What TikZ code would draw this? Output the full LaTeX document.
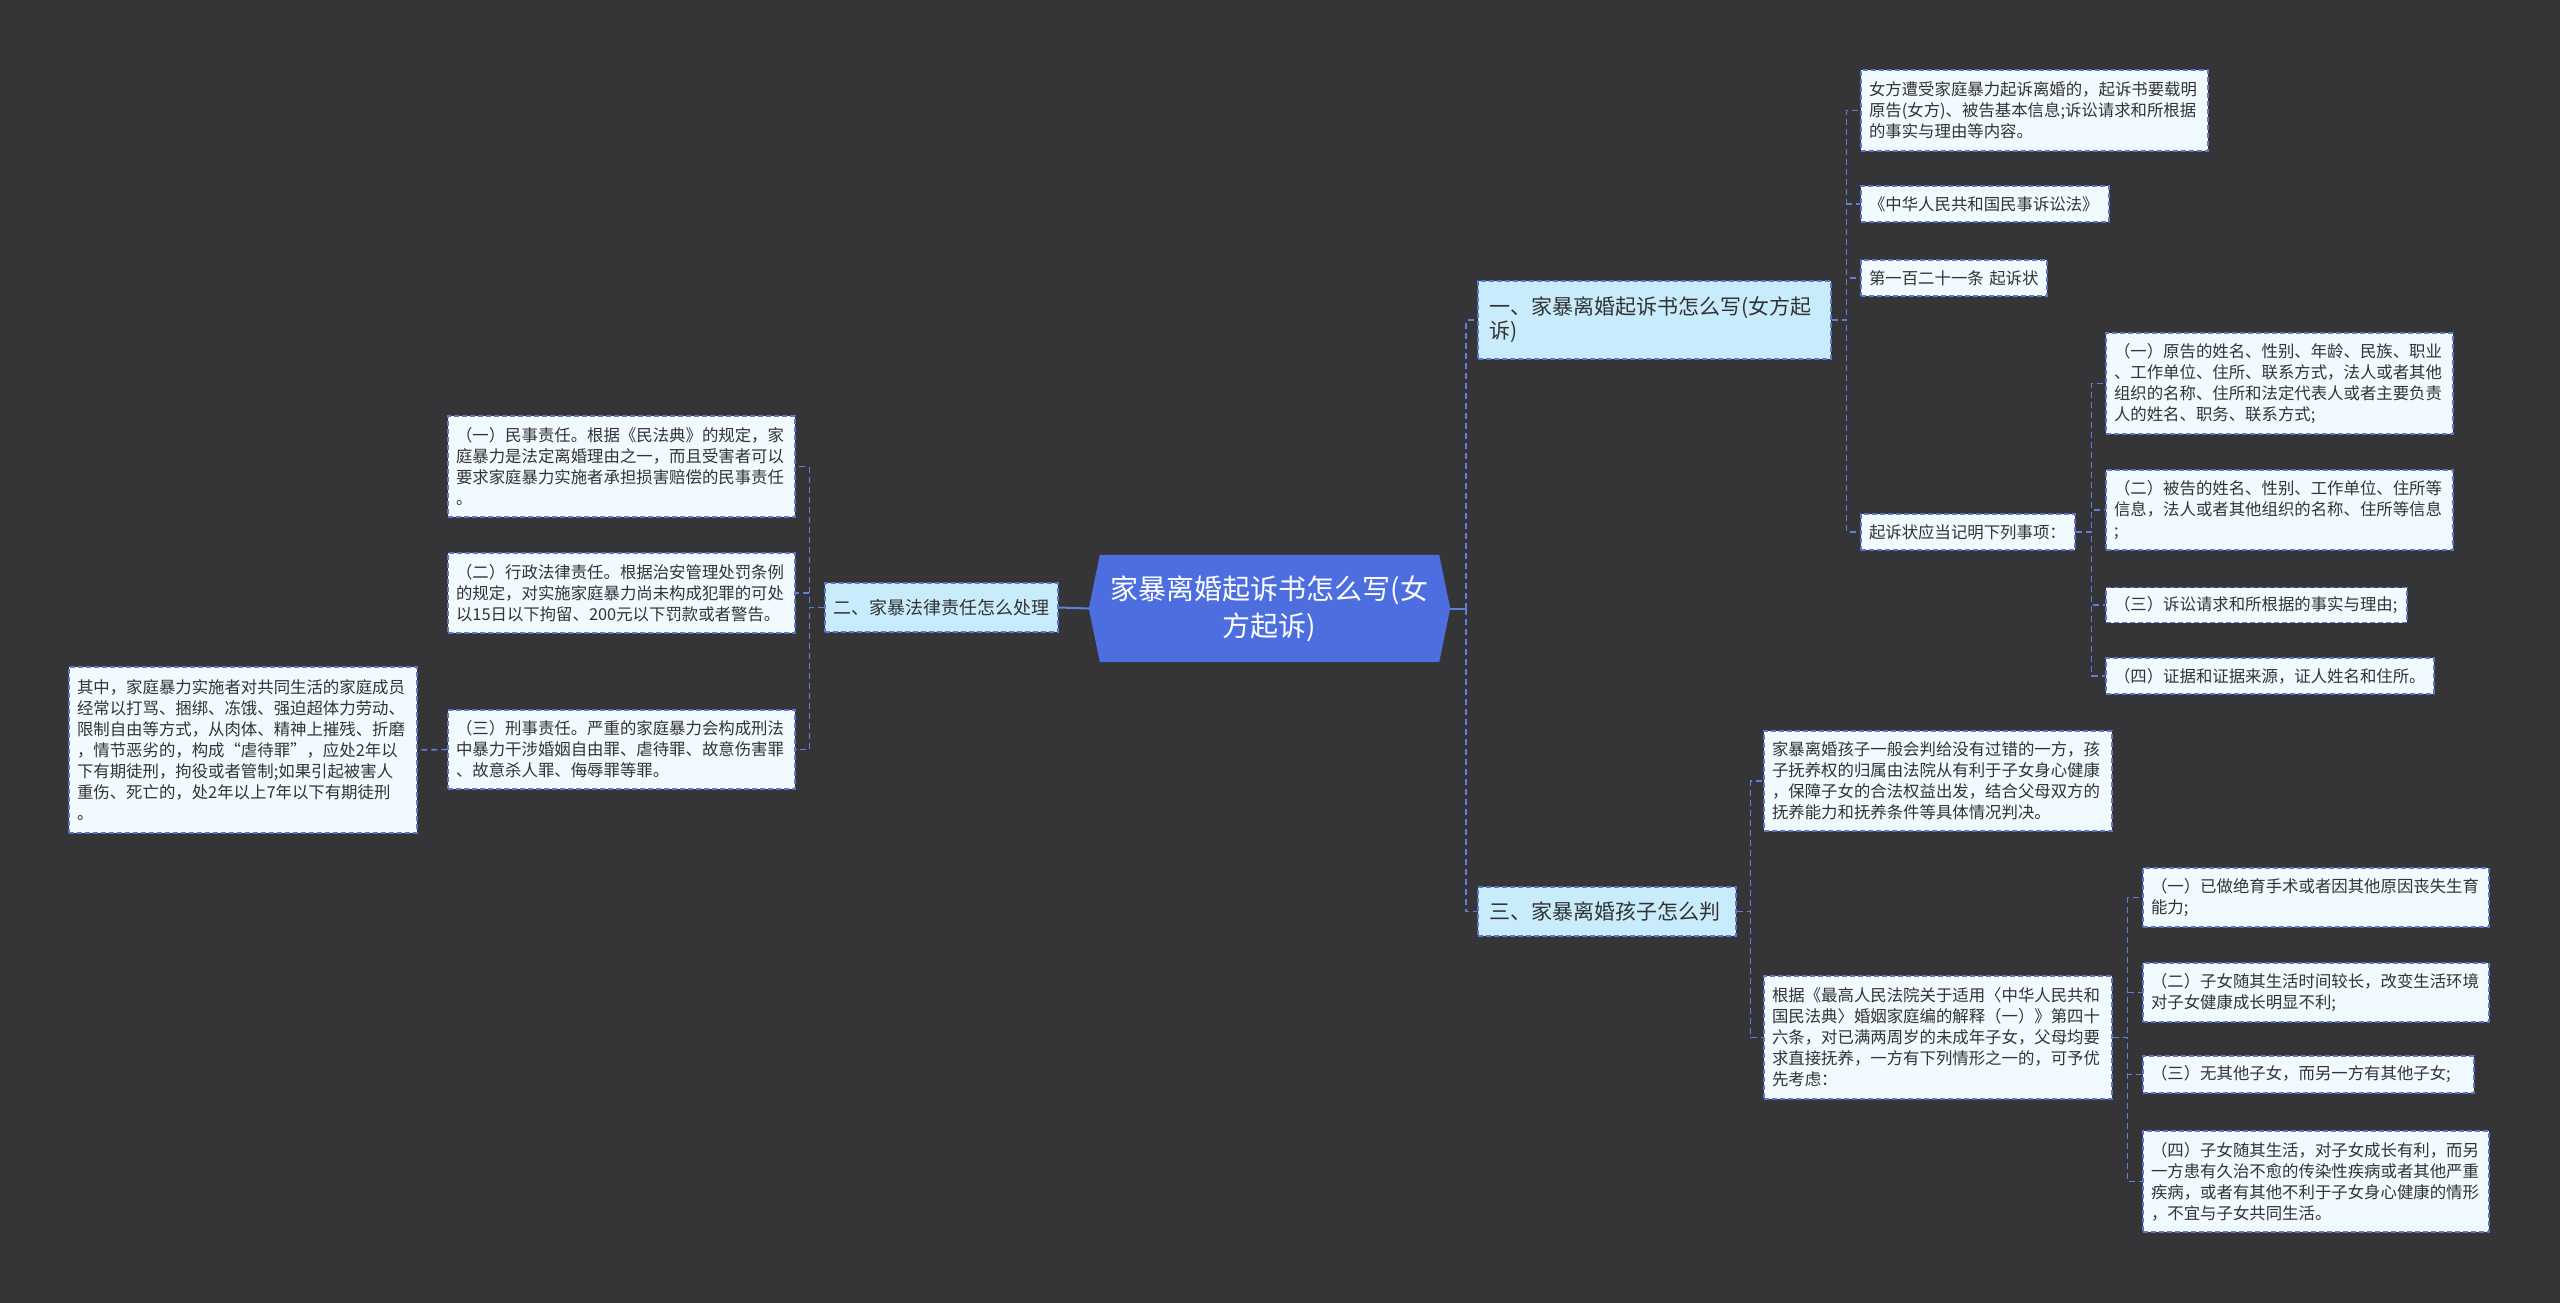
\documentclass[tikz,border=0pt]{standalone}
\usepackage{fontspec}
\setmainfont{Noto Sans CJK SC}
\usetikzlibrary{backgrounds}
\pgfdeclarelayer{bottom}
\pgfsetlayers{bottom,background,main}
\definecolor{bgdark}{HTML}{353538}
\definecolor{edgeblue}{HTML}{5B76CC}
\definecolor{connblue}{HTML}{5F80DC}
\definecolor{leaffill}{HTML}{F1FAFE}
\definecolor{branchfill}{HTML}{C8ECFB}
\definecolor{rootfill}{HTML}{4C6EDF}
\definecolor{textdark}{HTML}{333333}
\newcommand{\leaffont}{\fontsize{16.4pt}{21pt}\selectfont}
\newcommand{\branchfont}{\fontsize{21pt}{24pt}\selectfont}
\newcommand{\branchsmallfont}{\fontsize{18pt}{22pt}\selectfont}
\newcommand{\rootfont}{\fontsize{28pt}{37pt}\selectfont}
\tikzset{
  leaf/.style={draw=edgeblue, line width=1.3pt, dash pattern=on 5pt off 3pt,
    fill=leaffill, text=textdark, inner xsep=8pt, inner ysep=0pt,
    align=left, font=\leaffont, anchor=center},
  branch/.style={leaf, fill=branchfill, font=\branchfont, inner xsep=11pt},
  conn/.style={draw=connblue, line width=1.6pt, dash pattern=on 6pt off 4pt},
  rootconn/.style={draw=connblue, line width=2pt},
}
\begin{document}
\begin{tikzpicture}[x=1pt, y=-1pt]
\useasboundingbox (0,0) rectangle (2560,1303);
\begin{pgfonlayer}{bottom}
\fill[bgdark] (0,0) rectangle (2560,1303);
\end{pgfonlayer}

% root
\node[text=white, font=\rootfont, align=center, minimum width=361pt, minimum height=107pt, inner sep=0pt] (root) at (1269.5,608.5) {家暴离婚起诉书怎么写(女\\方起诉)};
\begin{scope}[on background layer]
\fill[rootfill] ([xshift=11pt]root.north west) -- ([xshift=-11pt]root.north east) -- (root.east) -- ([xshift=-11pt]root.south east) -- ([xshift=11pt]root.south west) -- (root.west) -- cycle;
\end{scope}

% branch 1
\node[branch, text width=331pt, minimum height=78pt] (B1) at (1654.5,320) {一、家暴离婚起诉书怎么写(女方起\\诉)};
\node[leaf, text width=331pt, minimum height=81pt] (L1a) at (2034.5,110.5) {女方遭受家庭暴力起诉离婚的，起诉书要载明\\原告(女方)、被告基本信息;诉讼请求和所根据\\的事实与理由等内容。};
\node[leaf, text width=232pt, minimum height=36pt] (L1b) at (1985,204) {《中华人民共和国民事诉讼法》};
\node[leaf, text width=170pt, minimum height=36pt] (L1c) at (1954,278) {第一百二十一条 起诉状};
\node[leaf, text width=198pt, minimum height=36pt] (L1d) at (1968,532) {起诉状应当记明下列事项：};
\node[leaf, text width=331pt, minimum height=101pt] (S1) at (2279.5,383.5) {（一）原告的姓名、性别、年龄、民族、职业\\、工作单位、住所、联系方式，法人或者其他\\组织的名称、住所和法定代表人或者主要负责\\人的姓名、职务、联系方式;};
\node[leaf, text width=331pt, minimum height=80pt] (S2) at (2279.5,510) {（二）被告的姓名、性别、工作单位、住所等\\信息，法人或者其他组织的名称、住所等信息\\;};
\node[leaf, text width=285pt, minimum height=35pt] (S3) at (2256.5,605) {（三）诉讼请求和所根据的事实与理由;};
\node[leaf, text width=312pt, minimum height=36pt] (S4) at (2270,676) {（四）证据和证据来源，证人姓名和住所。};

% branch 2
\node[branch, font=\branchsmallfont, inner xsep=8pt, text width=217pt, minimum height=49pt] (B2) at (941.5,607.5) {二、家暴法律责任怎么处理};
\node[leaf, text width=331pt, minimum height=101pt] (L2a) at (621.5,466.5) {（一）民事责任。根据《民法典》的规定，家\\庭暴力是法定离婚理由之一，而且受害者可以\\要求家庭暴力实施者承担损害赔偿的民事责任\\。};
\node[leaf, text width=331pt, minimum height=80pt] (L2b) at (621.5,593) {（二）行政法律责任。根据治安管理处罚条例\\的规定，对实施家庭暴力尚未构成犯罪的可处\\以15日以下拘留、200元以下罚款或者警告。};
\node[leaf, text width=331pt, minimum height=79pt] (L2c) at (621.5,749.5) {（三）刑事责任。严重的家庭暴力会构成刑法\\中暴力干涉婚姻自由罪、虐待罪、故意伤害罪\\、故意杀人罪、侮辱罪等罪。};
\node[leaf, text width=332pt, minimum height=166pt] (L2cc) at (243,750) {其中，家庭暴力实施者对共同生活的家庭成员\\经常以打骂、捆绑、冻饿、强迫超体力劳动、\\限制自由等方式，从肉体、精神上摧残、折磨\\，情节恶劣的，构成“虐待罪”，应处2年以\\下有期徒刑，拘役或者管制;如果引起被害人\\重伤、死亡的，处2年以上7年以下有期徒刑\\。};

% branch 3
\node[branch, text width=236pt, minimum height=49pt] (B3) at (1607,911.5) {三、家暴离婚孩子怎么判};
\node[leaf, text width=332pt, minimum height=100pt] (L3a) at (1938,781) {家暴离婚孩子一般会判给没有过错的一方，孩\\子抚养权的归属由法院从有利于子女身心健康\\，保障子女的合法权益出发，结合父母双方的\\抚养能力和抚养条件等具体情况判决。};
\node[leaf, text width=332pt, minimum height=123pt] (L3b) at (1938,1037.5) {根据《最高人民法院关于适用〈中华人民共和\\国民法典〉婚姻家庭编的解释（一）》第四十\\六条，对已满两周岁的未成年子女，父母均要\\求直接抚养，一方有下列情形之一的，可予优\\先考虑：};
\node[leaf, text width=330pt, minimum height=59pt] (T1) at (2316,897.5) {（一）已做绝育手术或者因其他原因丧失生育\\能力;};
\node[leaf, text width=330pt, minimum height=59pt] (T2) at (2316,992.5) {（二）子女随其生活时间较长，改变生活环境\\对子女健康成长明显不利;};
\node[leaf, text width=315pt, minimum height=37pt] (T3) at (2308.5,1074.5) {（三）无其他子女，而另一方有其他子女;};
\node[leaf, text width=330pt, minimum height=101pt] (T4) at (2316,1181.5) {（四）子女随其生活，对子女成长有利，而另\\一方患有久治不愈的传染性疾病或者其他严重\\疾病，或者有其他不利于子女身心健康的情形\\，不宜与子女共同生活。};

% connectors
\begin{scope}[on background layer]
\draw[rootconn] (root.east) -- ++(16,0) coordinate (rs);
\draw[conn] (rs) |- (B1.west);
\draw[conn] (rs) |- (B3.west);
\draw[rootconn] (root.west) -- (B2.east);

\foreach \c in {L2a,L2b,L2c} \draw[conn] (B2.west) -- ++(-15,0) |- (\c.east);
\draw[conn] (L2c.west) -- (L2cc.east);

\foreach \c in {L1a,L1b,L1c,L1d} \draw[conn] (B1.east) -- ++(15,0) |- (\c.west);
\foreach \c in {S1,S2,S3,S4} \draw[conn] (L1d.east) -- ++(16,0) |- (\c.west);

\foreach \c in {L3a,L3b} \draw[conn] (B3.east) -- ++(14,0) |- (\c.west);
\foreach \c in {T1,T2,T3,T4} \draw[conn] (L3b.east) -- ++(15,0) |- (\c.west);
\end{scope}
\end{tikzpicture}
\end{document}
